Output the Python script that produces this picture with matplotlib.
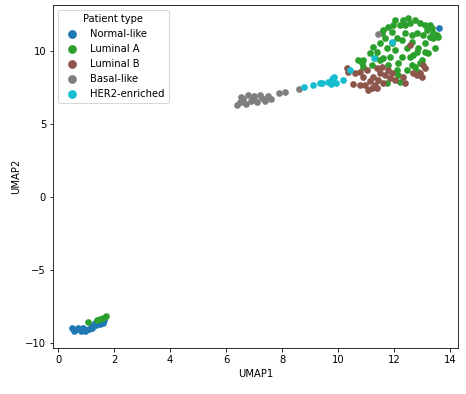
import numpy as np
import matplotlib
matplotlib.use("Agg")
import matplotlib.pyplot as plt

groups = ["Normal-like", "Luminal A", "Luminal B", "Basal-like", "HER2-enriched"]
colors = ["#1f77b4", "#2ca02c", "#8c564b", "#7f7f7f", "#17becf"]

normal_x = [0.5, 0.6, 0.7, 0.8, 0.9, 1.0, 1.1, 1.2, 1.3, 1.35, 1.45, 1.5, 1.6, 1.65, 0.55, 0.95, 1.2,
            6.96, 13.6]
normal_y = [-9.0, -9.1, -8.95, -9.2, -9.0, -9.1, -9.05, -8.8, -8.6, -8.75, -8.5, -8.7, -8.6, -8.4, -9.15, -9.15, -9.0,
            6.7, 11.6]

lumA_x = [1.05, 1.4, 1.5, 1.6, 1.7,
          10.85, 10.9, 11.14, 11.25, 11.38, 11.5, 11.56, 11.61, 11.68, 11.74, 11.8, 11.86, 11.92, 11.98,
          12.04, 12.1, 12.15, 12.21, 12.27, 12.33, 12.39, 12.45, 12.5, 12.57, 12.63, 12.68, 12.75, 12.81,
          12.87, 12.93, 12.99, 13.05, 13.1, 13.17, 13.23, 13.29, 13.35, 13.4, 13.46, 13.52, 13.57,
          11.8, 12.1, 12.21, 11.74, 12.63, 12.75, 12.93, 12.81, 12.27, 11.92, 11.62, 11.2, 12.39, 12.04,
          12.63, 13.1, 12.45, 12.87, 12.15, 11.5, 11.32, 10.9, 13.1, 13.29, 13.4, 12.57, 10.7]
lumA_y = [-8.55, -8.45, -8.35, -8.3, -8.15,
          9.16, 9.38, 9.84, 10.3, 9.95, 10.53, 11.21, 11.44, 10.87, 10.18, 11.66, 9.61, 11.32, 11.78,
          10.07, 10.87, 9.16, 11.78, 9.61, 12.12, 11.21, 10.18, 12.24, 11.9, 10.64, 9.73, 12.12, 11.21,
          10.18, 11.9, 9.38, 11.1, 10.53, 11.44, 9.84, 10.98, 11.55, 11.21, 10.18, 11.1, 10.98,
          9.04, 8.7, 7.9, 7.79, 9.04, 8.93, 9.16, 9.95, 10.75, 10.53, 9.5, 9.04, 11.78, 12.12,
          11.1, 9.95, 8.7, 8.58, 8.36, 9.38, 9.5, 8.93, 11.78, 11.78, 10.87, 9.61, 9.38]

lumB_x = [10.31, 10.36, 10.6, 10.55, 10.79, 10.9, 11.02, 10.96, 11.14, 11.2, 11.25, 11.32, 11.38,
          11.43, 11.5, 11.56, 11.68, 11.8, 11.86, 11.92, 12.04, 12.33, 12.39, 12.57, 12.68, 12.81,
          12.93, 13.04, 13.1, 12.99, 10.79, 11.38, 11.61, 11.07]
lumB_y = [8.86, 8.58, 8.5, 7.74, 8.58, 8.24, 8.7, 7.67, 7.95, 7.49, 8.24, 7.67, 8.81,
          8.0, 8.47, 8.93, 8.36, 8.7, 8.13, 8.47, 8.0, 8.24, 7.8, 10.4, 8.47, 8.36,
          8.47, 9.04, 8.81, 8.24, 7.67, 7.45, 7.8, 7.33]

basal_x = [6.4, 6.5, 6.6, 6.7, 6.8, 6.9, 7.0, 7.1, 7.2, 7.3, 7.4, 7.5, 7.6, 7.0, 6.6, 7.9, 8.1, 8.6, 6.55, 11.43]
basal_y = [6.3, 6.5, 6.7, 6.4, 7.0, 6.6, 6.9, 6.5, 7.0, 6.8, 6.6, 6.9, 6.7, 6.7, 6.5, 7.1, 7.2, 7.4, 6.85, 11.16]

her2_x = [8.79, 9.1, 9.36, 9.43, 9.64, 9.8, 9.86, 9.75, 9.93, 10.18, 10.43, 11.3, 11.93, 9.82]
her2_y = [7.53, 7.67, 7.8, 7.8, 7.88, 8.08, 8.2, 7.74, 7.8, 8.0, 8.7, 9.5, 10.6, 8.15]

xs = [normal_x, lumA_x, lumB_x, basal_x, her2_x]
ys = [normal_y, lumA_y, lumB_y, basal_y, her2_y]

fig = plt.figure(figsize=(466 / 72, 394 / 72), dpi=72)
ax = fig.add_axes([0.114, 0.117, 0.869, 0.87])
for name, c, x, y in zip(groups, colors, xs, ys):
    ax.scatter(x, y, s=45, color=c, label=name, linewidths=0)

ax.set_xlim(-0.18, 14.29)
ax.set_ylim(-10.34, 13.15)
ax.set_xticks([0, 2, 4, 6, 8, 10, 12, 14])
ax.set_yticks([-10, -5, 0, 5, 10])
ax.set_xlabel("UMAP1")
ax.set_ylabel("UMAP2")
ax.legend(title="Patient type", loc="upper left", markerscale=1.3)
fig.savefig("out.png", dpi=72)
